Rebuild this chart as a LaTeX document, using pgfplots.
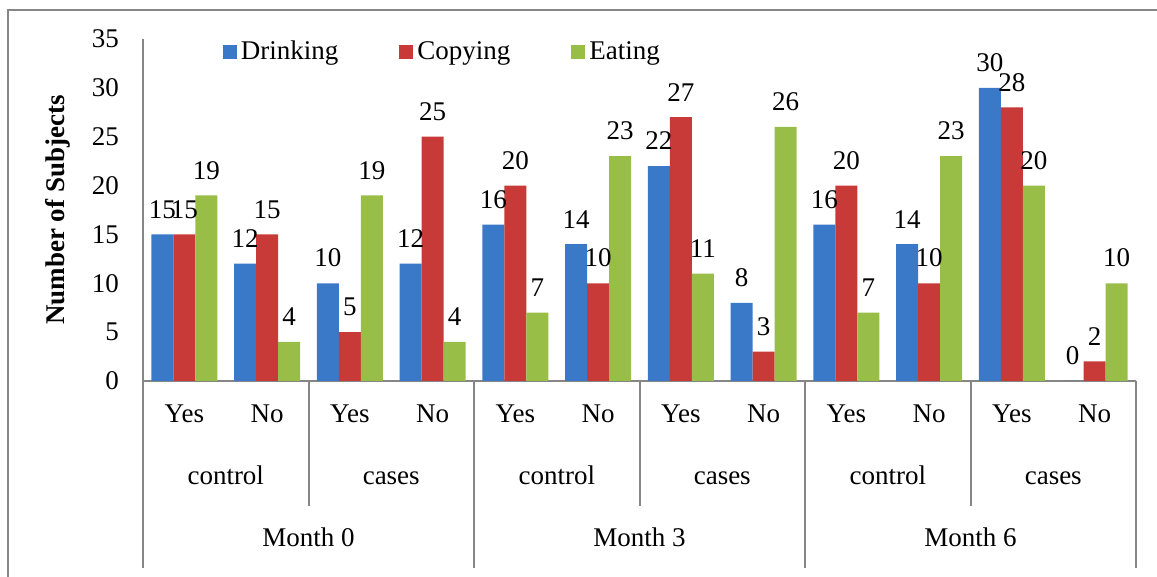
\documentclass[border=0pt]{standalone}
\usepackage{pgfplots}
\pgfplotsset{compat=1.18}
\usepackage{fontspec}
\setmainfont{Liberation Serif}
\definecolor{cblue}{RGB}{58,120,200}
\definecolor{cred}{RGB}{200,58,55}
\definecolor{cgreen}{RGB}{152,190,72}
\definecolor{cgray}{RGB}{134,134,134}
\newcommand{\fs}{\fontsize{13.5}{16}\selectfont}
\begin{document}
\begin{tikzpicture}
\path[use as bounding box] (0pt,0pt) rectangle (578.5pt,288.5pt);
\draw[cgray,line width=1pt] (4pt,-20pt) -- (4pt,283.5pt) -- (600pt,283.5pt);
\begin{axis}[
  at={(71.5pt,98pt)}, anchor=south west,
  scale only axis, width=496.5pt, height=171pt,
  xmin=-0.5, xmax=11.5, ymin=0, ymax=35,
  clip=false,
  ybar=0pt, bar width=11pt,
  axis lines*=left,
  axis line style={cgray, line width=1pt},
  xtick={0,...,11},
  xticklabels={Yes,No,Yes,No,Yes,No,Yes,No,Yes,No,Yes,No},
  xtick style={draw=none},
  xticklabel style={anchor=base, yshift=-16.5pt, font=\fs},
  ytick={0,5,...,35},
  ytick style={draw=none},
  yticklabel style={xshift=-8.5pt, font=\fs},
  /pgf/number format/assume math mode=true,
  ylabel={\bfseries Number of Subjects},
  ylabel style={at={(axis description cs:-0.0856,0.5)}, anchor=center, font=\fs},
  nodes near coords,
  nodes near coords style={font=\fs, yshift=4.5pt, black},
  legend style={at={(0.074,0.962)}, anchor=west, draw=none, fill=none,
    legend columns=3, font=\fs,
    /tikz/every even column/.append style={column sep=28.5pt}},
  legend image code/.code={\fill[#1] (0pt,-3.5pt) rectangle (7pt,3.5pt);},
]
\addplot[fill=cblue, draw=none] coordinates {(0,15)(1,12)(2,10)(3,12)(4,16)(5,14)(6,22)(7,8)(8,16)(9,14)(10,30)(11,0)};
\addplot[fill=cred, draw=none] coordinates {(0,15)(1,15)(2,5)(3,25)(4,20)(5,10)(6,27)(7,3)(8,20)(9,10)(10,28)(11,2)};
\addplot[fill=cgreen, draw=none] coordinates {(0,19)(1,4)(2,19)(3,4)(4,7)(5,23)(6,11)(7,26)(8,7)(9,23)(10,20)(11,10)};
\legend{Drinking,Copying,Eating}
% group separators
\draw[cgray, line width=1pt] (axis cs:1.5,0) -- ++(0pt,-62.5pt);
\draw[cgray, line width=1pt] (axis cs:5.5,0) -- ++(0pt,-62.5pt);
\draw[cgray, line width=1pt] (axis cs:9.5,0) -- ++(0pt,-62.5pt);
\draw[cgray, line width=1pt] (axis cs:-0.5,0) -- ++(0pt,-93.5pt);
\draw[cgray, line width=1pt] (axis cs:3.5,0) -- ++(0pt,-93.5pt);
\draw[cgray, line width=1pt] (axis cs:7.5,0) -- ++(0pt,-93.5pt);
\draw[cgray, line width=1pt] (axis cs:11.5,0) -- ++(0pt,-93.5pt);
\node[font=\fs, anchor=base] at (axis cs:0.5,0) [yshift=-52pt] {control};
\node[font=\fs, anchor=base] at (axis cs:2.5,0) [yshift=-52pt] {cases};
\node[font=\fs, anchor=base] at (axis cs:4.5,0) [yshift=-52pt] {control};
\node[font=\fs, anchor=base] at (axis cs:6.5,0) [yshift=-52pt] {cases};
\node[font=\fs, anchor=base] at (axis cs:8.5,0) [yshift=-52pt] {control};
\node[font=\fs, anchor=base] at (axis cs:10.5,0) [yshift=-52pt] {cases};
\node[font=\fs, anchor=base] at (axis cs:1.5,0) [yshift=-83pt] {Month 0};
\node[font=\fs, anchor=base] at (axis cs:5.5,0) [yshift=-83pt] {Month 3};
\node[font=\fs, anchor=base] at (axis cs:9.5,0) [yshift=-83pt] {Month 6};
\end{axis}
\end{tikzpicture}
\end{document}
